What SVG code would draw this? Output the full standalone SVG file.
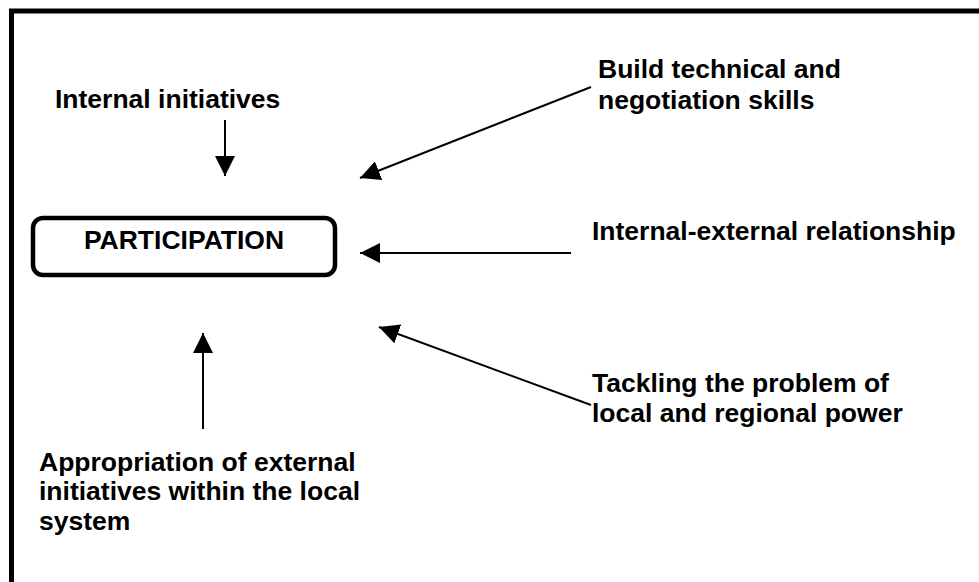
<svg xmlns="http://www.w3.org/2000/svg" width="979" height="582" viewBox="0 0 979 582">
  <style>
    .lbl { font-family: "Liberation Sans", Arial, sans-serif; font-weight: bold; font-size: 26.5px; fill: #000; }
    .conn { stroke: #000; stroke-width: 2; fill: none; marker-end: url(#head); }
  </style>
  <defs>
    <marker id="head" viewBox="0 0 20 20" refX="20" refY="10" markerWidth="20" markerHeight="20" markerUnits="userSpaceOnUse" orient="auto">
      <path d="M0,0 L20,10 L0,20 Z" fill="#000"/>
    </marker>
  </defs>
  <rect width="979" height="582" fill="#fff"/>
  <!-- outer frame (open to the right and bottom) -->
  <path d="M11.5,600 V11 H1000" fill="none" stroke="#000" stroke-width="5"/>

  <g id="participation">
    <rect x="33" y="218" width="302" height="57" rx="10" ry="10" fill="#fff" stroke="#000" stroke-width="4.5"/>
    <text class="lbl" x="184" y="249" text-anchor="middle">PARTICIPATION</text>
  </g>
  <g id="internal-initiatives">
    <text class="lbl" x="55" y="108">Internal initiatives</text>
  </g>
  <g id="build-skills">
    <text class="lbl" x="598" y="78">Build technical and</text>
    <text class="lbl" x="598" y="109">negotiation skills</text>
  </g>
  <g id="internal-external">
    <text class="lbl" x="592" y="240">Internal-external relationship</text>
  </g>
  <g id="tackling-power">
    <text class="lbl" x="592" y="392">Tackling the problem of</text>
    <text class="lbl" x="592" y="422">local and regional power</text>
  </g>
  <g id="appropriation">
    <text class="lbl" x="39" y="471">Appropriation of external</text>
    <text class="lbl" x="39" y="500">initiatives within the local</text>
    <text class="lbl" x="39" y="530">system</text>
  </g>

  <g id="connectors">
    <line class="conn" x1="225" y1="120" x2="225" y2="176"/>
    <line class="conn" x1="591" y1="87" x2="360" y2="178"/>
    <line class="conn" x1="571" y1="253" x2="360" y2="253"/>
    <line class="conn" x1="591" y1="405" x2="379" y2="327"/>
    <line class="conn" x1="203" y1="429" x2="203" y2="333"/>
  </g>
</svg>
